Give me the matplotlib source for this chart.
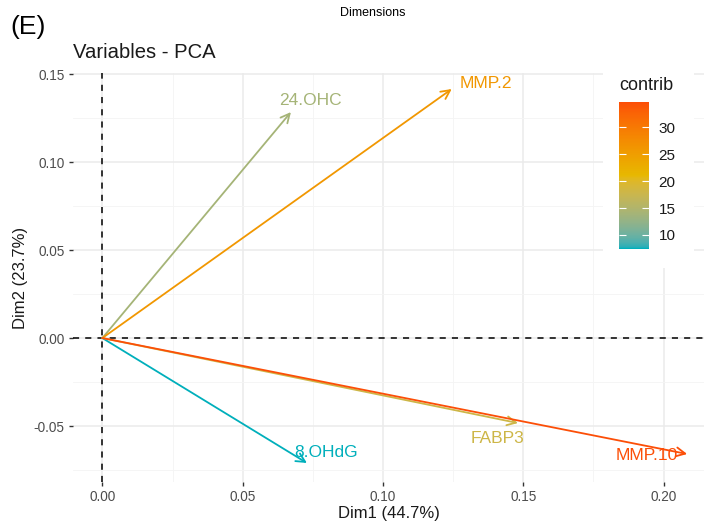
import numpy as np
import matplotlib.pyplot as plt
from matplotlib.colors import ListedColormap, Normalize, to_rgb
from matplotlib.patches import Rectangle

plt.rcParams['font.family'] = ['Liberation Sans', 'DejaVu Sans']

# variable coordinates on Dim1 / Dim2 and their contributions
variables = ["MMP.2", "24.OHC", "MMP.10", "FABP3", "8.OHdG"]
dim1 = [0.1245, 0.0672, 0.2084, 0.1481, 0.0729]
dim2 = [0.1415, 0.1284, -0.0659, -0.0483, -0.0710]
contrib = [26.0, 14.0, 34.7, 18.0, 7.4]
# where the repelled labels sit
label_x = [0.1367, 0.0743, 0.1939, 0.1408, 0.0797]
label_y = [0.1449, 0.1352, -0.0665, -0.0568, -0.0648]

gradient_cols = ["#00AFBB", "#E7B800", "#FC4E07"]


# ggplot interpolates the gradient in Lab space
def rgb2lab(rgb):
    rgb = np.asarray(rgb, float)
    lin = np.where(rgb > 0.04045, ((rgb + 0.055) / 1.055) ** 2.4, rgb / 12.92)
    m = np.array([[0.4124, 0.3576, 0.1805], [0.2126, 0.7152, 0.0722], [0.0193, 0.1192, 0.9505]])
    xyz = m @ lin / np.array([0.95047, 1.0, 1.08883])
    f = np.where(xyz > 0.008856, np.cbrt(xyz), 7.787 * xyz + 16 / 116)
    return np.array([116 * f[1] - 16, 500 * (f[0] - f[1]), 200 * (f[1] - f[2])])


def lab2rgb(lab):
    fy = (lab[0] + 16) / 116
    fx = fy + lab[1] / 500
    fz = fy - lab[2] / 200
    f = np.array([fx, fy, fz])
    xyz = np.where(f ** 3 > 0.008856, f ** 3, (f - 16 / 116) / 7.787) * np.array([0.95047, 1.0, 1.08883])
    minv = np.array([[3.2406, -1.5372, -0.4986], [-0.9689, 1.8758, 0.0415], [0.0557, -0.2040, 1.0570]])
    lin = minv @ xyz
    rgb = np.where(lin > 0.0031308, 1.055 * np.clip(lin, 0, None) ** (1 / 2.4) - 0.055, 12.92 * lin)
    return np.clip(rgb, 0, 1)


labs = [rgb2lab(to_rgb(c)) for c in gradient_cols]
cm_list = []
for t in np.linspace(0, 1, 256):
    seg = min(int(t * 2), 1)
    u = t * 2 - seg
    cm_list.append(lab2rgb(labs[seg] * (1 - u) + labs[seg + 1] * u))
cmap = ListedColormap(cm_list)
norm = Normalize(vmin=min(contrib), vmax=max(contrib))

fig = plt.figure(figsize=(7.04, 5.23), dpi=100)
ax = fig.add_axes([73 / 704, 1 - 482 / 523, 631 / 704, 409 / 523])

ax.set_xlim(-0.01046, 0.2144)
ax.set_ylim(-0.0818, 0.1506)

ax.set_xticks([0.0, 0.05, 0.10, 0.15, 0.20])
ax.set_yticks([-0.05, 0.0, 0.05, 0.10, 0.15])
ax.set_xticks([0.025, 0.075, 0.125, 0.175], minor=True)
ax.set_yticks([-0.075, -0.025, 0.025, 0.075, 0.125], minor=True)
ax.grid(True, which="major", color="#ebebeb", lw=1.1, zorder=0)
ax.grid(True, which="minor", color="#f4f4f4", lw=0.6, zorder=0)
ax.set_xticklabels(["0.00", "0.05", "0.10", "0.15", "0.20"])
ax.set_yticklabels(["-0.05", "0.00", "0.05", "0.10", "0.15"])
ax.tick_params(which="major", length=3, width=1, color="#333333", labelcolor="#4d4d4d", labelsize=9.8, pad=3)
ax.tick_params(which="minor", length=0)
for s in ax.spines.values():
    s.set_visible(False)
ax.set_axisbelow(True)

ax.axhline(0, color="black", ls=(0, (4, 4)), lw=1.1, zorder=1)
ax.axvline(0, color="black", ls=(0, (4, 4)), lw=1.1, zorder=1)

# arrows from the origin, coloured by contribution
order = sorted(range(len(variables)), key=lambda i: contrib[i])
for i in order:
    c = cmap(norm(contrib[i]))
    ax.annotate("", xy=(dim1[i], dim2[i]), xytext=(0, 0),
                arrowprops=dict(arrowstyle="->", color=c, lw=1.3,
                                mutation_scale=16, shrinkA=0, shrinkB=0),
                zorder=3)
    ax.text(label_x[i], label_y[i], variables[i], color=c, fontsize=12.5,
            ha="center", va="center", zorder=4)

ax.set_xlabel("Dim1 (44.7%)", fontsize=12, color="#1a1a1a", labelpad=1)
ax.set_ylabel("Dim2 (23.7%)", fontsize=12, color="#1a1a1a", labelpad=4)

# legend box with colour bar
fig.patches.append(Rectangle((603 / 704, 1 - 268 / 523), 91 / 704, 202 / 523,
                             transform=fig.transFigure, facecolor="white",
                             edgecolor="none", zorder=5))
cax = fig.add_axes([619 / 704, 1 - 249 / 523, 30 / 704, 147 / 523], zorder=6)
sm = plt.cm.ScalarMappable(norm=norm, cmap=cmap)
cb = fig.colorbar(sm, cax=cax, ticks=[10, 15, 20, 25, 30])
cb.outline.set_visible(False)
cax.tick_params(which="both", direction="in", length=5, width=0.8, color="white",
                left=True, right=True, labelsize=11, labelcolor="#1a1a1a", pad=7)
cax.tick_params(which="minor", length=0)
fig.text(619 / 704, 1 - 85 / 523, "contrib", fontsize=13, color="#1a1a1a",
         va="center", ha="left", zorder=7)

fig.text(73 / 704, 1 - 52 / 523, "Variables - PCA", fontsize=14.6, color="#1a1a1a",
         va="center", ha="left")
fig.text(10 / 704, 1 - 27 / 523, "(E)", fontsize=19, va="center", ha="left")
fig.text(373 / 704, 1 - 13 / 523, "Dimensions", fontsize=9, va="center", ha="center")

fig.savefig("out.png", dpi=100)
